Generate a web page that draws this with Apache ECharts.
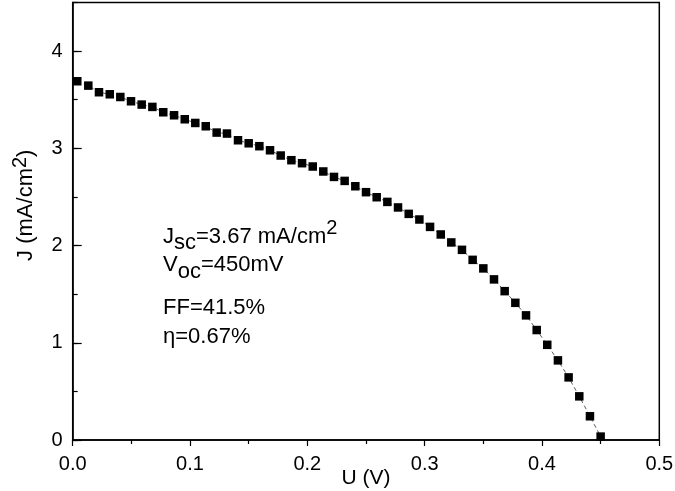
<!DOCTYPE html>
<html><head><meta charset="utf-8">
<script src="https://cdn.jsdelivr.net/npm/echarts@6/dist/echarts.min.js"></script>
<style>html,body{margin:0;padding:0;background:#fff}#c{width:675px;height:491px}</style>
</head><body><div id="c"></div>
<script>
const voltage = [0.0039,0.0133,0.0224,0.0316,0.0406,0.0497,0.0588,0.0679,0.0772,0.0864,
  0.0955,0.1045,0.1134,0.1227,0.1315,0.1409,0.1500,0.1591,0.1682,0.1773,
  0.1864,0.1955,0.2046,0.2136,0.2227,0.2318,0.2409,0.2500,0.2591,0.2682,
  0.2773,0.2864,0.2955,0.3046,0.3137,0.3227,0.3318,0.3409,0.3500,0.3591,
  0.3682,0.3773,0.3864,0.3955,0.4045,0.4136,0.4227,0.4318,0.4409,0.4500];
const current = [3.690,3.645,3.577,3.556,3.528,3.484,3.450,3.426,3.371,3.340,
  3.299,3.261,3.227,3.162,3.152,3.083,3.052,3.022,2.980,2.926,
  2.878,2.847,2.813,2.762,2.706,2.665,2.610,2.549,2.497,2.449,
  2.392,2.326,2.268,2.192,2.114,2.032,1.956,1.853,1.765,1.652,
  1.531,1.411,1.282,1.131,0.979,0.819,0.644,0.449,0.244,0.035];
const xTicks = [0.0, 0.1, 0.2, 0.3, 0.4, 0.5];
const yTicks = [0, 1, 2, 3, 4];
const annotation = ['J|sc|=3.67 mA/cm|2', 'V|oc|=450mV', 'FF=41.5%', 'η=0.67%'];

const FONT = 'Liberation Sans, Arial, sans-serif';
const chart = echarts.init(document.getElementById('c'), null, {renderer: 'canvas'});
const data = voltage.map((v, i) => [v, current[i]]);

const [j1, j2, j3, j4] = annotation[0].split('|');
const [v1, v2, v3] = annotation[1].split('|');
const base = {fontFamily: FONT, fontSize: 22, fill: '#000', verticalAlign: 'bottom'};

chart.setOption({
  animation: false,
  backgroundColor: '#fff',
  grid: {left: 72.7, right: 15.7, top: 2.5, bottom: 51, outerBoundsMode: 'none', containLabel: false,
    show: true, borderColor: '#000', borderWidth: 1.5, backgroundColor: 'transparent'},
  xAxis: {
    type: 'value', min: xTicks[0], max: xTicks[xTicks.length - 1], interval: 0.1,
    name: 'U (V)', nameLocation: 'middle', nameGap: 28, nameMoveOverlap: false,
    nameTextStyle: {fontFamily: FONT, fontSize: 21, color: '#000'},
    axisLine: {lineStyle: {color: '#000', width: 1.5}},
    axisTick: {inside: false, length: 6, lineStyle: {color: '#000', width: 1.2}},
    minorTick: {show: true, splitNumber: 2, length: 4, lineStyle: {color: '#000', width: 1.2}},
    axisLabel: {fontFamily: FONT, fontSize: 20, color: '#000', margin: 14, formatter: v => v.toFixed(1)},
    splitLine: {show: false}
  },
  yAxis: [{
    type: 'value', min: yTicks[0], max: 4.5, interval: 1,
    name: 'J (mA/cm{sup|2})', nameLocation: 'middle', nameGap: 32, nameMoveOverlap: false,
    nameTextStyle: {fontFamily: FONT, fontSize: 22, color: '#000', padding: [0, 0, 0, 32],
      rich: {sup: {fontFamily: FONT, fontSize: 20, color: '#000', verticalAlign: 'top', padding: [0, 0, 10, 0]}}},
    axisLine: {lineStyle: {color: '#000', width: 1.5}},
    axisTick: {inside: true, length: 9, lineStyle: {color: '#000', width: 1.2}},
    axisLabel: {fontFamily: FONT, fontSize: 20, color: '#000', margin: 10, showMaxLabel: false,
      formatter: v => (yTicks.indexOf(v) >= 0 ? String(v) : '')},
    splitLine: {show: false}
  }, {
    type: 'value', min: 0, max: 4.5, interval: 0.5, position: 'left',
    axisLine: {show: false},
    axisTick: {inside: true, length: 5, lineStyle: {color: '#000', width: 1.2}},
    axisLabel: {show: false},
    splitLine: {show: false}
  }],
  graphic: [
    {type: 'text', left: 163, top: 218, style: {
      text: '{n|' + j1 + '}{s|' + j2 + '}{n|' + j3 + '}{p|' + j4 + '}',
      rich: {n: Object.assign({}, base, {padding: [0, 0, 6, 0]}),
             s: Object.assign({}, base),
             p: Object.assign({}, base, {fontSize: 20, padding: [0, 0, 16, 0]})}}},
    {type: 'text', left: 163, top: 254, style: {
      text: '{n|' + v1 + '}{s|' + v2 + '}{n|' + v3 + '}',
      rich: {n: Object.assign({}, base, {padding: [0, 0, 7, 0]}),
             s: Object.assign({}, base)}}},
    {type: 'text', left: 163, top: 297, style: {text: annotation[2], fontFamily: FONT, fontSize: 22, fill: '#000'}},
    {type: 'text', left: 163, top: 326, style: {text: annotation[3], fontFamily: FONT, fontSize: 22, fill: '#000'}}
  ],
  series: [{
    type: 'line', data: data, yAxisIndex: 0,
    symbol: 'rect', symbolSize: 8.5,
    itemStyle: {color: '#000'},
    lineStyle: {color: '#333', width: 0.8, type: [4, 3]}
  }]
});
</script></body></html>
